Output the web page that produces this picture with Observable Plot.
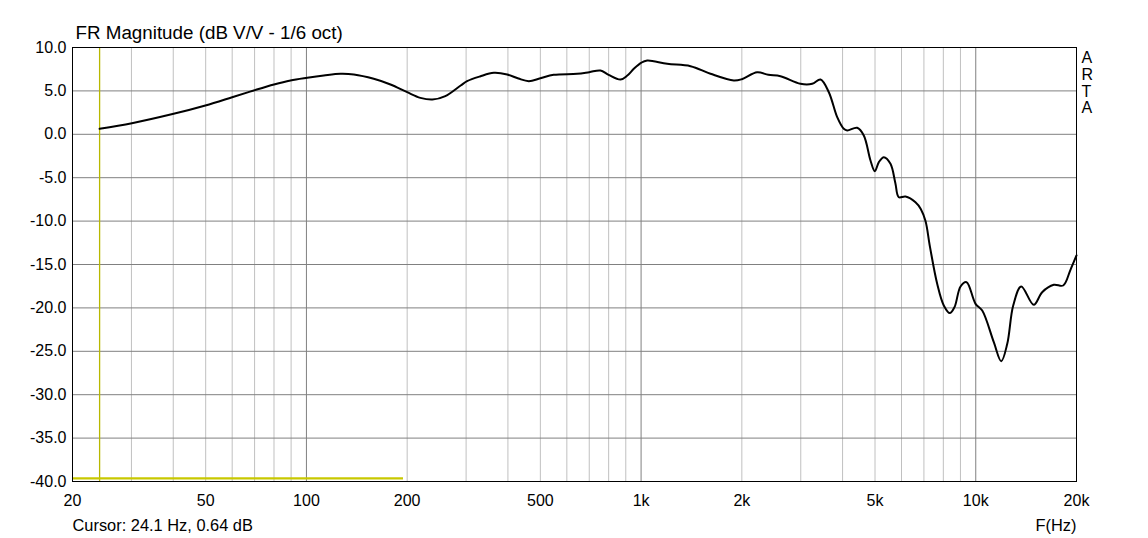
<!DOCTYPE html>
<html>
<head>
<meta charset="utf-8">
<script src="https://cdn.jsdelivr.net/npm/d3@7"></script>
<script src="https://cdn.jsdelivr.net/npm/@observablehq/plot@0.6"></script>
<style>
  html, body { margin: 0; padding: 0; background: #ffffff; }
  #chart svg { display: block; }
</style>
</head>
<body>
<div id="chart"></div>
<script>
// ---- Data ----
const freqHz = [24.1, 30.1, 40.1, 49.9, 60, 69.6, 80, 89.6, 100.6, 112.7, 126.4, 138.6, 158.9, 178.3, 200, 219, 238, 260, 289, 302, 330, 363, 398, 430, 462, 500, 548, 644, 700, 756, 800, 868, 910, 951, 1000, 1043, 1197, 1405, 1612, 1892, 2000, 2222, 2400, 2609, 2994, 3246, 3437, 3639, 3855, 4033, 4130, 4423, 4629, 4847, 4993, 5134, 5313, 5562, 5750, 5888, 6166, 6606, 6850, 7077, 7300, 7669, 8026, 8365, 8641, 9007, 9386, 9985, 10456, 11322, 11917, 12420, 12940, 13670, 14906, 15791, 17108, 18248, 19186, 20000];
const magDb = [0.64, 1.28, 2.36, 3.32, 4.27, 5.05, 5.74, 6.2, 6.51, 6.77, 6.97, 6.89, 6.39, 5.74, 4.85, 4.2, 4.0, 4.4, 5.62, 6.12, 6.66, 7.08, 6.89, 6.42, 6.12, 6.45, 6.85, 6.97, 7.16, 7.35, 6.85, 6.31, 6.77, 7.54, 8.24, 8.5, 8.12, 7.85, 6.97, 6.2, 6.35, 7.15, 6.85, 6.69, 5.82, 5.82, 6.31, 4.85, 1.97, 0.63, 0.44, 0.75, -0.14, -3.02, -4.25, -3.21, -2.64, -3.4, -5.6, -7.25, -7.17, -7.82, -8.6, -10.0, -13.0, -17.22, -19.72, -20.6, -19.91, -17.53, -17.04, -19.53, -20.3, -23.95, -26.14, -24.14, -19.72, -17.53, -19.65, -18.19, -17.34, -17.42, -15.61, -13.96];

const xTicks = [20, 50, 100, 200, 500, 1000, 2000, 5000, 10000, 20000];
const xTickLabels = ["20", "50", "100", "200", "500", "1k", "2k", "5k", "10k", "20k"];
const yTicks = [10, 5, 0, -5, -10, -15, -20, -25, -30, -35, -40];
const yTickLabels = ["10.0", "5.0", "0.0", "-5.0", "-10.0", "-15.0", "-20.0", "-25.0", "-30.0", "-35.0", "-40.0"];
const gridMinorHz = [30, 40, 50, 60, 70, 80, 90, 200, 300, 400, 500, 600, 700, 800, 900, 2000, 3000, 4000, 5000, 6000, 7000, 8000, 9000];
const gridDecadeHz = [100, 1000, 10000];

const cursorHz = 24.1;
const cursorDb = 0.64;
const markerLine = [{f1: 20, f2: 195, db: -39.65}];

const titleText = "FR Magnitude (dB V/V - 1/6 oct)";
const cursorText = `Cursor: ${cursorHz} Hz, ${cursorDb} dB`;
const axisUnitText = "F(Hz)";
const brandText = "A\nR\nT\nA";

// ---- Build ----
const rows = freqHz.map((f, i) => ({f, db: magDb[i]}));
const xLabelRows = xTicks.map((f, i) => ({f, label: xTickLabels[i]}));
const yLabelRows = yTicks.map((v, i) => ({v, label: yTickLabels[i]}));
const FONT = "'Liberation Sans', Arial, sans-serif";

const chart = Plot.plot({
  width: 1148,
  height: 538,
  marginLeft: 72,
  marginRight: 72,
  marginTop: 47,
  marginBottom: 57,
  style: {fontFamily: FONT, fontSize: "16px", color: "#000", background: "#fff"},
  x: {type: "log", domain: [20, 20000], axis: null},
  y: {domain: [-40, 10], axis: null},
  marks: [
    Plot.ruleX(gridMinorHz, {stroke: "#c0c0c0", strokeWidth: 1}),
    Plot.ruleY(yTicks, {stroke: "#808080", strokeWidth: 1}),
    Plot.ruleX(gridDecadeHz, {stroke: "#808080", strokeWidth: 1}),
    Plot.ruleX([cursorHz], {stroke: "#b8b800", strokeWidth: 1.3}),
    Plot.ruleY(markerLine, {y: "db", x1: "f1", x2: "f2", stroke: "#c8c800", strokeWidth: 2.2}),
    Plot.line(rows, {x: "f", y: "db", stroke: "#000", strokeWidth: 2, curve: "catmull-rom"}),
    Plot.frame({stroke: "#000", strokeWidth: 1}),
    Plot.text(xLabelRows, {x: "f", text: "label", frameAnchor: "bottom", lineAnchor: "middle", textAnchor: "middle", dy: 18.9, fontSize: 16, fill: "#000"}),
    Plot.text(yLabelRows, {y: "v", text: "label", frameAnchor: "left", lineAnchor: "middle", textAnchor: "end", dx: -6, fontSize: 16, fill: "#000"}),
    Plot.text([titleText], {frameAnchor: "top-left", textAnchor: "start", lineAnchor: "middle", dx: 3, dy: -14.7, fontSize: 18.8, fill: "#000"}),
    Plot.text([cursorText], {frameAnchor: "bottom-left", textAnchor: "start", lineAnchor: "middle", dx: 0, dy: 44.4, fontSize: 16.4, fill: "#000"}),
    Plot.text([axisUnitText], {frameAnchor: "bottom-right", textAnchor: "end", lineAnchor: "middle", dx: 0, dy: 44.4, fontSize: 16.4, fill: "#000"}),
    Plot.text([brandText], {frameAnchor: "top-right", textAnchor: "start", lineAnchor: "top", lineHeight: 1.05, dx: 5, dy: 3.6, fontSize: 16, fill: "#000"})
  ]
});
document.getElementById("chart").appendChild(chart);
</script>
</body>
</html>
